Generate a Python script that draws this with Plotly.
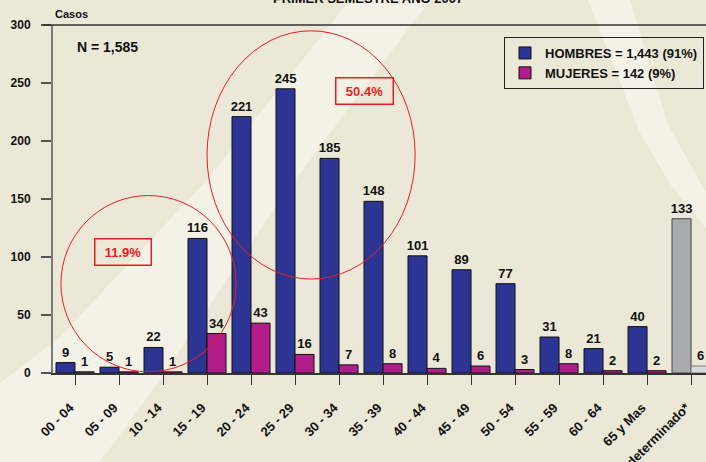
import plotly.graph_objects as go

# ---------------- data ----------------
categories = ["00 - 04", "05 - 09", "10 - 14", "15 - 19", "20 - 24", "25 - 29",
              "30 - 34", "35 - 39", "40 - 44", "45 - 49", "50 - 54", "55 - 59",
              "60 - 64", "65 y Mas", "Indeterminado*"]
hombres = [9, 5, 22, 116, 221, 245, 185, 148, 101, 89, 77, 31, 21, 40, 133]
mujeres = [1, 1, 1, 34, 43, 16, 7, 8, 4, 6, 3, 8, 2, 2, 6]
y_ticks = [0, 50, 100, 150, 200, 250, 300]
legend_names = ["HOMBRES = 1,443 (91%)", "MUJERES = 142 (9%)"]
title_text = "PRIMER SEMESTRE AÑO 2007"
n_text = "N = 1,585"
pct_labels = ["11.9%", "50.4%"]

# ---------------- layout geometry ----------------
W, H = 706, 462
L, T, B, R = 53, 25, 89, 0
pw, ph = W - L - R, H - T - B


def px(x):
    return (x - L) / pw


def py(y):
    return (H - B - y) / ph


def bold(s):
    return f"<b>{s}</b>"


FONT = "Liberation Sans, Arial, sans-serif"
BLUE, MAG = "#2C3593", "#B11E8B"
GREY, LGREY = "#A8AAAD", "#D8DBE0"
RED = "#EC1C24"
BG, LIGHT = "#EBE8D7", "#F4F2E7"

n = len(categories)
h_colors = [BLUE] * (n - 1) + [GREY]
m_colors = [MAG] * (n - 1) + [LGREY]
h_lines = ["#111111"] * (n - 1) + ["#444444"]
m_lines = ["#111111"] * (n - 1) + ["#777777"]

fig = go.Figure()
fig.add_bar(x=categories, y=hombres, name=bold(legend_names[0]),
            marker=dict(color=h_colors, line=dict(color=h_lines, width=1)),
            text=[bold(v) for v in hombres], textposition="outside",
            cliponaxis=False, constraintext="none",
            textfont=dict(family=FONT, size=13, color="#111"))
fig.add_bar(x=categories, y=mujeres, name=bold(legend_names[1]),
            marker=dict(color=m_colors, line=dict(color=m_lines, width=1)),
            text=[bold(v) for v in mujeres], textposition="outside",
            cliponaxis=False, constraintext="none",
            textfont=dict(family=FONT, size=13, color="#111"))

shapes = []
# decorative background bands
band = [(350, 0), (430, 0), (280, 200), (160, 380), (100, 462), (0, 462),
        (0, 383), (60, 337), (207, 180)]
stripe = [(588, 0), (630, 0), (668, 125), (706, 192), (706, 228),
          (672, 187), (640, 133)]
for poly in (band, stripe):
    path = "M " + " L ".join(f"{px(a):.5f},{py(b):.5f}" for a, b in poly) + " Z"
    shapes.append(dict(type="path", xref="paper", yref="paper", path=path,
                       fillcolor=LIGHT, line=dict(width=0), layer="below"))
# top frame line at 300
shapes.append(dict(type="line", xref="paper", yref="paper", x0=px(43), x1=1.0,
                   y0=1, y1=1, line=dict(color="#333333", width=1.5)))
# red ellipses
shapes.append(dict(type="circle", xref="x", yref="y", x0=-0.32, x1=3.66,
                   y0=1, y1=153, line=dict(color=RED, width=1)))
shapes.append(dict(type="circle", xref="x", yref="y", x0=3.0, x1=7.73,
                   y0=81, y1=295, line=dict(color=RED, width=1)))

annotations = [
    dict(text=bold(title_text), xref="paper", yref="paper", x=px(368), y=py(-1.5),
         xanchor="center", yanchor="middle", showarrow=False,
         font=dict(family=FONT, size=13, color="#111")),
    dict(text=bold("Casos"), xref="paper", yref="paper", x=px(53), y=py(14),
         xanchor="left", yanchor="middle", showarrow=False,
         font=dict(family=FONT, size=11, color="#111")),
    dict(text=bold(n_text), xref="paper", yref="paper", x=px(75), y=py(47),
         xanchor="left", yanchor="middle", showarrow=False,
         font=dict(family=FONT, size=14, color="#111")),
    dict(text=bold(pct_labels[0]), xref="x", yref="y", x=1.10, y=104,
         showarrow=False, width=53, height=23, borderpad=1,
         bordercolor=RED, borderwidth=1.5,
         font=dict(family=FONT, size=13, color=RED)),
    dict(text=bold(pct_labels[1]), xref="x", yref="y", x=6.59, y=243,
         showarrow=False, width=54, height=23, borderpad=1,
         bordercolor=RED, borderwidth=1.5,
         font=dict(family=FONT, size=13, color=RED)),
]

fig.update_layout(
    width=W, height=H,
    margin=dict(l=L, r=R, t=T, b=B, pad=0, autoexpand=False),
    paper_bgcolor=BG, plot_bgcolor="rgba(0,0,0,0)",
    barmode="group", bargap=0.136, bargroupgap=0,
    font=dict(family=FONT, size=12, color="#111"),
    showlegend=True,
    legend=dict(x=px(704), y=py(37), xanchor="right", yanchor="top",
                bgcolor="rgba(0,0,0,0)", bordercolor="#222", borderwidth=1,
                font=dict(family=FONT, size=13, color="#111"),
                itemwidth=30, tracegroupgap=0),
    shapes=shapes, annotations=annotations,
    xaxis=dict(type="category", range=[-0.5, 14.34], showgrid=False,
               automargin=False,
               showline=True, linecolor="#333333", linewidth=2,
               ticks="outside", ticklen=10, tickwidth=1, tickcolor="#333333",
               tickangle=-45, ticklabelstandoff=10, ticklabelshift=-5,
               tickfont=dict(family=FONT, size=13, color="#111", weight="bold")),
    yaxis=dict(range=[0, 300], tickvals=y_ticks, showgrid=False, zeroline=False,
               automargin=False,
               showline=True, linecolor="#7a7a7a", linewidth=2,
               ticks="outside", ticklen=10, tickwidth=1.5, tickcolor="#555555",
               ticklabelstandoff=8,
               tickfont=dict(family=FONT, size=12, color="#111", weight="bold")),
)

fig.write_html("out.html",
               config={"displayModeBar": False},
               post_script="document.body.style.margin='0px';"
                           "document.body.style.overflow='hidden';")
